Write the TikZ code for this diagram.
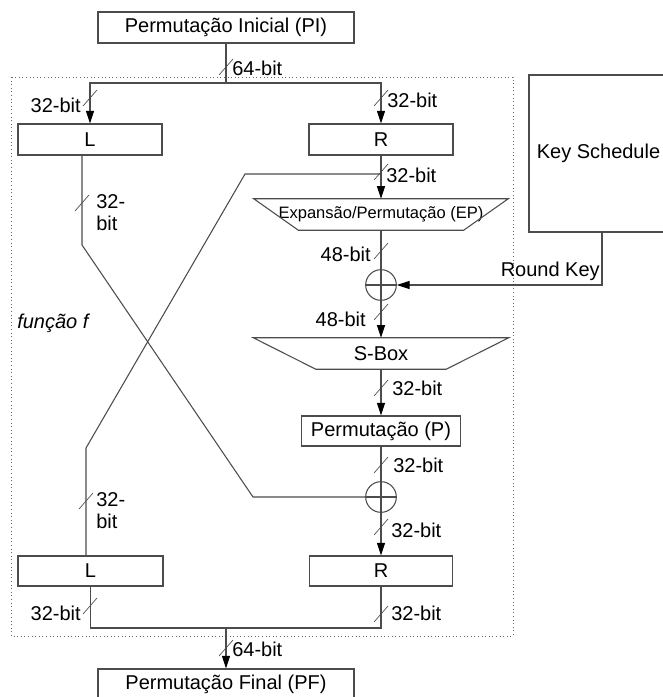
\documentclass[tikz,border=0pt]{standalone}
\usepackage{fontspec}
\setmainfont{Liberation Sans}
\usetikzlibrary{arrows.meta,calc}
\newcommand\mainfnt{\fontsize{15}{16.5}\selectfont}
\newcommand\epfnt{\fontsize{12.4}{14}\selectfont}
\begin{document}
\begin{tikzpicture}[x=0.75pt,y=-0.75pt,
  line/.style={draw=black!70, line width=0.8pt},
  arr/.style={-{Triangle[length=9.5pt,width=6pt,color=black]}},
  box/.style={draw=black!70, line width=0.8pt, rectangle, inner sep=0pt, font=\mainfnt},
  trap/.style={rectangle, inner sep=0pt, font=\mainfnt},
  xor/.style={circle, draw=black!70, line width=0.8pt, minimum size=23pt, inner sep=0pt,
    path picture={\draw[black!70,line width=0.8pt]
      (path picture bounding box.north) -- (path picture bounding box.south)
      (path picture bounding box.west) -- (path picture bounding box.east);}},
  slash/.style={draw=black!70, line width=0.5pt},
  lbl/.style={inner sep=0pt, font=\mainfnt, align=left}]
\useasboundingbox (0,0) rectangle (663,697);

% frame of the round function
\draw[black!60, dotted, line width=0.7pt] (11,77) rectangle (513,636);

% blocks
\node[box, minimum width=192pt, minimum height=23.25pt] (PI) at (226,27.5) {Permutação Inicial (PI)};
\node[box, minimum width=108pt, minimum height=23.25pt] (L1) at (90,139.5) {L};
\node[box, minimum width=108pt, minimum height=23.25pt] (R1) at (381,139.5) {R};
\node[box, minimum width=104.25pt, minimum height=117.75pt] (KS) at (598.5,153.5) {Key Schedule};
\node[trap, minimum width=190.5pt, minimum height=23.25pt, font=\epfnt] (EP) at (381,214.5) {Expansão/Permutação (EP)};
\draw[line] (EP.north west) -- (EP.north east) -- ([xshift=-33.5pt]EP.south east) -- ([xshift=33.5pt]EP.south west) -- cycle;
\node[xor] (X1) at (381,285) {};
\node[trap, minimum width=191.25pt, minimum height=23.25pt] (SB) at (381,353.5) {S-Box};
\draw[line] (SB.north west) -- (SB.north east) -- ([xshift=-47pt]SB.south east) -- ([xshift=47pt]SB.south west) -- cycle;
\node[box, minimum width=119.25pt, minimum height=22.5pt] (P) at (381,431) {Permutação (P)};
\node[xor] (X2) at (381,497) {};
\node[box, minimum width=108.75pt, minimum height=22.5pt] (L2) at (90.5,571) {L};
\node[box, minimum width=107.25pt, minimum height=22.5pt] (R2) at (381,571) {R};
\node[box, minimum width=192pt, minimum height=22.5pt] (PF) at (226,684) {Permutação Final (PF)};

% helper points
\coordinate (split) at (226,83);
\coordinate (j1) at (381,174);
\coordinate (c3) at (245,174);
\coordinate (c4) at (86,448);
\coordinate (l2in) at (86,556);
\coordinate (l1out) at (82,155);
\coordinate (c1) at (82,245);
\coordinate (c2) at (253,497);
\coordinate (kout) at (602,232);
\coordinate (merge) at (226,628);

% connectors
\draw[line] (PI.south) -- (split);
\draw[line,arr] (split) -| (L1.north);
\draw[line,arr] (split) -| (R1.north);
\draw[line,arr] (R1.south) -- (EP.north);
\draw[line] (j1) -- (c3) -- (c4) -- (l2in);
\draw[line] (l1out) -- (c1) -- (c2) -- (X2.west);
\draw[line] (EP.south) -- (X1.north);
\draw[line,arr] (kout) |- (X1.east);
\draw[line,arr] (X1.south) -- (SB.north);
\draw[line,arr] (SB.south) -- (P.north);
\draw[line] (P.south) -- (X2.north);
\draw[line,arr] (X2.south) -- (R2.north);
\draw[line] (L2.south) |- (merge) -| (R2.south);
\draw[line,arr] (merge) -- (PF.north);

% bus-width marks
\draw[slash] (226,67) ++(-7,8) -- ++(14,-16);
\draw[slash] (90,98) ++(-7,8) -- ++(14,-16);
\draw[slash] (381,98) ++(-7,8) -- ++(14,-16);
\draw[slash] (82,203) ++(-7,8) -- ++(14,-16);
\draw[slash] (381,172) ++(-7,8) -- ++(14,-16);
\draw[slash] (381,251) ++(-7,8) -- ++(14,-16);
\draw[slash] (381,312) ++(-7,8) -- ++(14,-16);
\draw[slash] (381,388) ++(-7,8) -- ++(14,-16);
\draw[slash] (381,465) ++(-7,8) -- ++(14,-16);
\draw[slash] (381,527) ++(-7,8) -- ++(14,-16);
\draw[slash] (86,501) ++(-7,8) -- ++(14,-16);
\draw[slash] (90,606) ++(-7,8) -- ++(14,-16);
\draw[slash] (381,614) ++(-7,8) -- ++(14,-16);
\draw[slash] (226,648) ++(-7,8) -- ++(14,-16);

% labels
\node[lbl, anchor=west] (t1) at (232,68) {64-bit};
\node[lbl, anchor=east] (t2) at (81,105) {32-bit};
\node[lbl, anchor=west] (t3) at (387,100) {32-bit};
\node[lbl, anchor=west] (t4) at (96,213) {32-\\bit};
\node[lbl, anchor=west] (t5) at (386,175) {32-bit};
\node[lbl, anchor=east] (t6) at (371,254) {48-bit};
\node[lbl, anchor=east] (t7) at (366,319) {48-bit};
\node[lbl, anchor=west] (t8) at (392,388) {32-bit};
\node[lbl, anchor=west] (t9) at (393,465) {32-bit};
\node[lbl, anchor=west] (t10) at (391,530) {32-bit};
\node[lbl, anchor=west] (t11) at (96,511) {32-\\bit};
\node[lbl, anchor=east] (t12) at (81,613) {32-bit};
\node[lbl, anchor=west] (t13) at (391,613) {32-bit};
\node[lbl, anchor=west] (t14) at (232,649) {64-bit};
\node[lbl, anchor=east] (rk) at (600,271) {Round Key};
\node[lbl, anchor=west, font=\mainfnt\itshape] (ff) at (17,323) {função f};
\end{tikzpicture}
\end{document}
